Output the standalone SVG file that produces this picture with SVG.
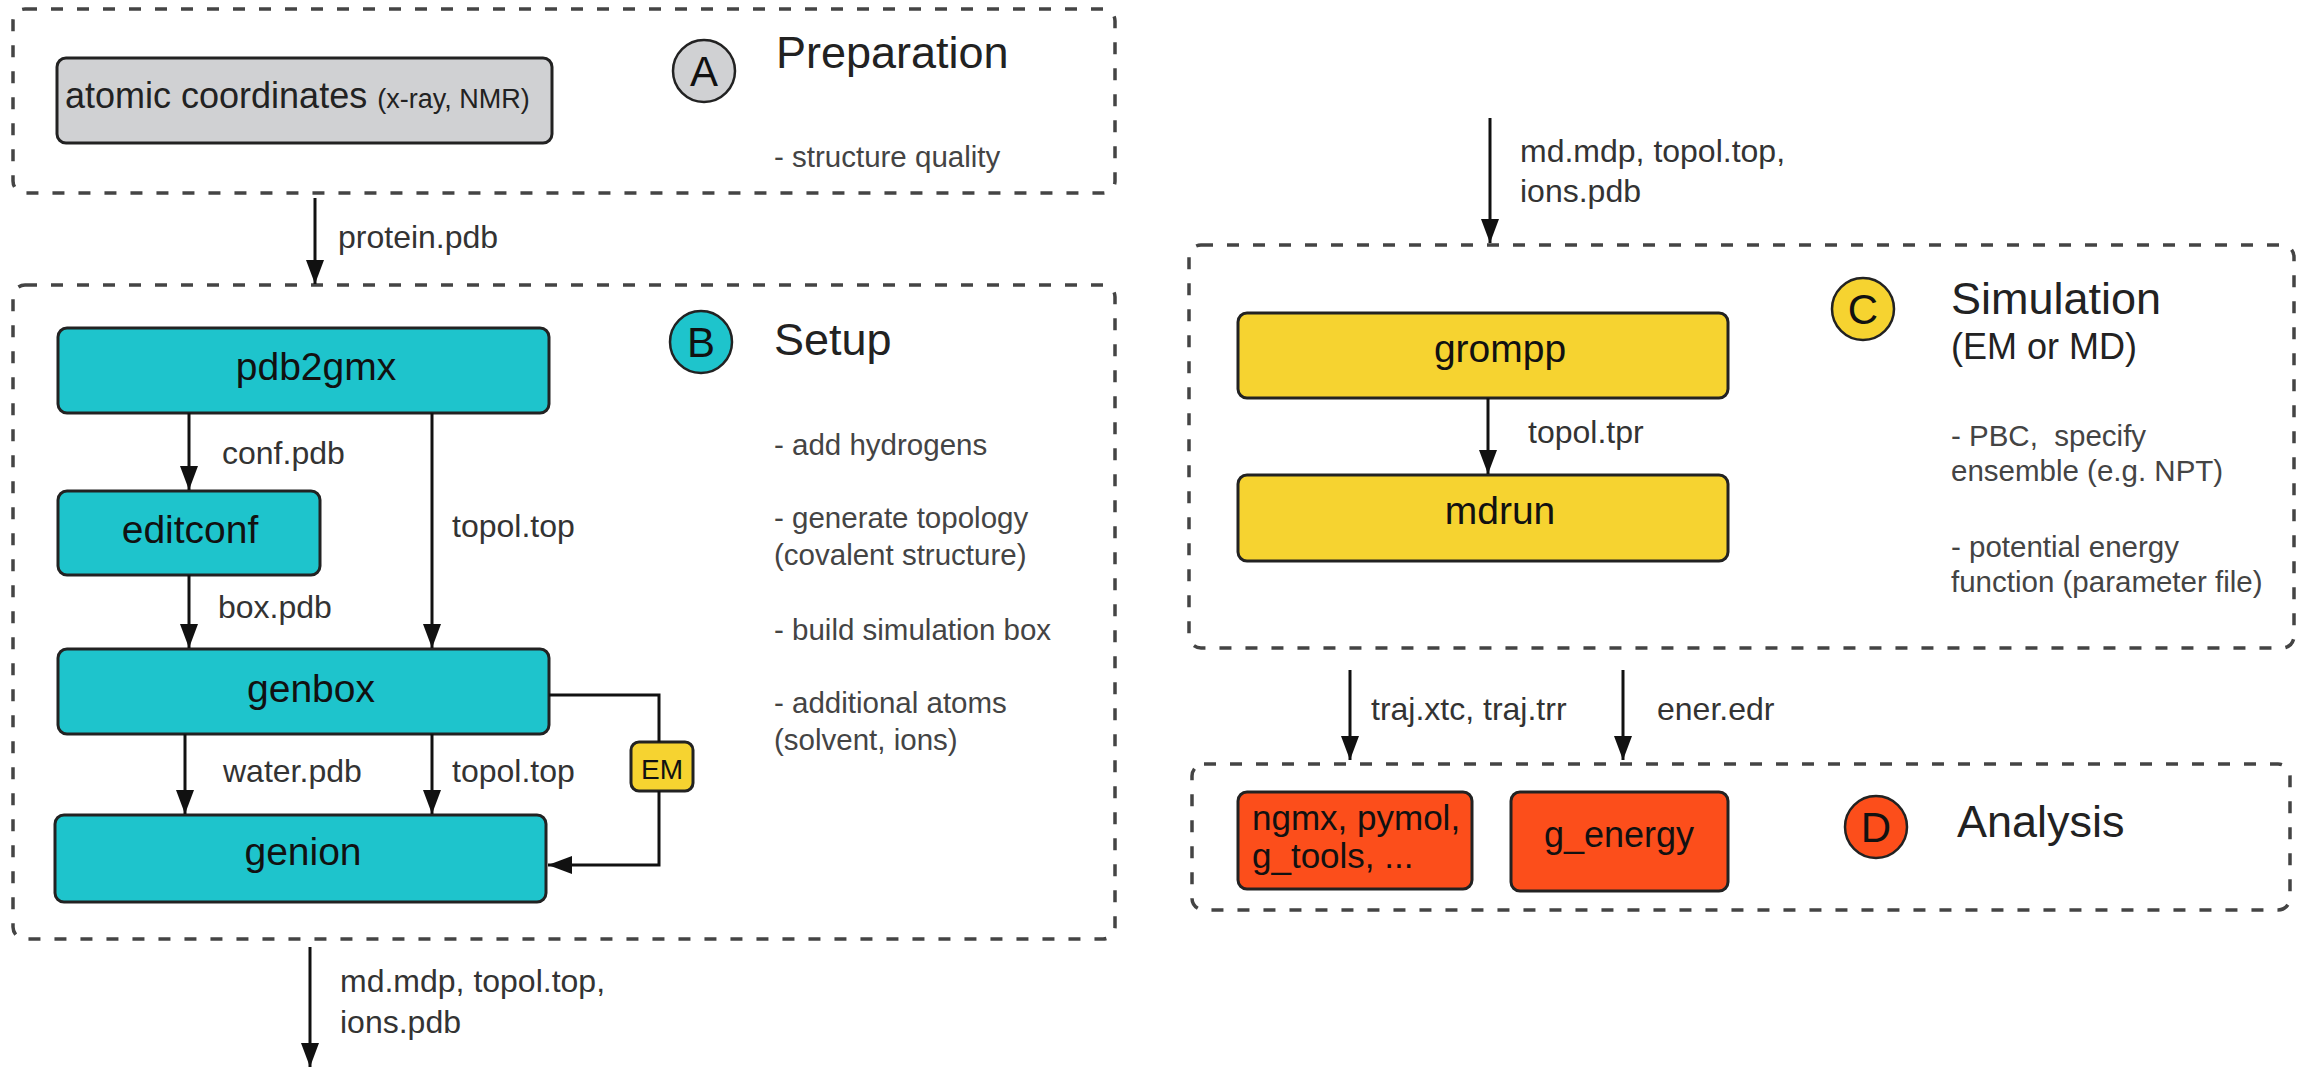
<svg xmlns="http://www.w3.org/2000/svg" width="2305" height="1069" viewBox="0 0 2305 1069">
<style>
text{font-family:"Liberation Sans",Arial,sans-serif}
.grp{fill:none;stroke:#444;stroke-width:3.5;stroke-dasharray:12 14}
.node{stroke:#222;stroke-width:3}
.gray{fill:#d0d1d3}
.teal{fill:#1ec4cc}
.yel{fill:#f6d330}
.org{fill:#fc4e1b}
.nt{font-size:39px;fill:#111;text-anchor:middle}
.lbl{font-size:32px;fill:#333}
.desc{font-size:29.5px;fill:#444}
.head{font-size:45px;fill:#222}
.sub{font-size:36px;fill:#222}
.badge{stroke:#222;stroke-width:2.5}
.bl{font-size:42px;fill:#111;text-anchor:middle}
.edge{fill:none;stroke:#111;stroke-width:3}
</style>
<defs>
<marker id="ah" markerUnits="userSpaceOnUse" markerWidth="26" markerHeight="20" refX="24" refY="9" orient="auto">
<path d="M0,0 L24,9 L0,18 z" fill="#111"/>
</marker>
</defs>
<rect width="2305" height="1069" fill="#fff"/>

<g id="groupA">
<rect class="grp" x="13" y="9" width="1102" height="184" rx="12"/>
<circle class="badge gray" cx="704" cy="71" r="31"/>
<text class="bl" x="704" y="86">A</text>
<text class="head" x="776" y="68">Preparation</text>
<text class="desc" x="774" y="167">- structure quality</text>
</g>
<g id="atomic">
<rect class="node gray" x="57" y="58" width="495" height="85" rx="9"/>
<text x="65" y="108" fill="#222" font-size="36">atomic coordinates <tspan font-size="27">(x-ray, NMR)</tspan></text>
</g>

<g id="groupB">
<rect class="grp" x="13" y="285" width="1102" height="654" rx="12"/>
<circle class="badge teal" cx="701" cy="342" r="31"/>
<text class="bl" x="701" y="357">B</text>
<text class="head" x="774" y="355">Setup</text>
<text class="desc" x="774" y="455">- add hydrogens</text>
<text class="desc" x="774" y="528">- generate topology</text>
<text class="desc" x="774" y="565">(covalent structure)</text>
<text class="desc" x="774" y="640">- build simulation box</text>
<text class="desc" x="774" y="713">- additional atoms</text>
<text class="desc" x="774" y="750">(solvent, ions)</text>
</g>
<g id="pdb2gmx">
<rect class="node teal" x="58" y="328" width="491" height="85" rx="9"/>
<text class="nt" x="316" y="380">pdb2gmx</text>
</g>
<g id="editconf">
<rect class="node teal" x="58" y="491" width="262" height="84" rx="9"/>
<text class="nt" x="190" y="543">editconf</text>
</g>
<g id="genbox">
<rect class="node teal" x="58" y="649" width="491" height="85" rx="9"/>
<text class="nt" x="311" y="702">genbox</text>
</g>
<g id="genion">
<rect class="node teal" x="55" y="815" width="491" height="87" rx="9"/>
<text class="nt" x="303" y="865">genion</text>
</g>
<g id="em">
<rect class="node yel" x="631" y="742" width="62" height="49" rx="8"/>
<text x="662" y="779" font-size="28" fill="#111" text-anchor="middle">EM</text>
</g>

<g id="groupC">
<rect class="grp" x="1189" y="245" width="1105" height="403" rx="12"/>
<circle class="badge yel" cx="1863" cy="309" r="31"/>
<text class="bl" x="1863" y="324">C</text>
<text class="head" x="1951" y="314">Simulation</text>
<text class="sub" x="1951" y="359">(EM or MD)</text>
<text class="desc" x="1951" y="446" xml:space="preserve">- PBC,  specify</text>
<text class="desc" x="1951" y="481">ensemble (e.g. NPT)</text>
<text class="desc" x="1951" y="557">- potential energy</text>
<text class="desc" x="1951" y="592">function (parameter file)</text>
</g>
<g id="grompp">
<rect class="node yel" x="1238" y="313" width="490" height="85" rx="9"/>
<text class="nt" x="1500" y="362">grompp</text>
</g>
<g id="mdrun">
<rect class="node yel" x="1238" y="475" width="490" height="86" rx="9"/>
<text class="nt" x="1500" y="524">mdrun</text>
</g>

<g id="groupD">
<rect class="grp" x="1192" y="764" width="1098" height="146" rx="12"/>
<circle class="badge org" cx="1876" cy="827" r="31"/>
<text class="bl" x="1876" y="842">D</text>
<text class="head" x="1957" y="837">Analysis</text>
</g>
<g id="ngmx">
<rect class="node org" x="1238" y="792" width="234" height="97" rx="9"/>
<text x="1252" y="830" font-size="35" fill="#111">ngmx, pymol,</text>
<text x="1252" y="868" font-size="35" fill="#111">g_tools, ...</text>
</g>
<g id="genergy">
<rect class="node org" x="1511" y="792" width="217" height="99" rx="9"/>
<text x="1619" y="847" font-size="36" fill="#111" text-anchor="middle">g_energy</text>
</g>

<g id="connectors">
<line class="edge" x1="315" y1="198" x2="315" y2="284" marker-end="url(#ah)"/>
<text class="lbl" x="338" y="248">protein.pdb</text>
<line class="edge" x1="189" y1="413" x2="189" y2="490" marker-end="url(#ah)"/>
<text class="lbl" x="222" y="464">conf.pdb</text>
<line class="edge" x1="189" y1="575" x2="189" y2="648" marker-end="url(#ah)"/>
<text class="lbl" x="218" y="618">box.pdb</text>
<line class="edge" x1="432" y1="413" x2="432" y2="648" marker-end="url(#ah)"/>
<text class="lbl" x="452" y="537">topol.top</text>
<line class="edge" x1="185" y1="734" x2="185" y2="814" marker-end="url(#ah)"/>
<text class="lbl" x="223" y="782">water.pdb</text>
<line class="edge" x1="432" y1="734" x2="432" y2="814" marker-end="url(#ah)"/>
<text class="lbl" x="452" y="782">topol.top</text>
<path class="edge" d="M549,695 H659 V742" stroke-width="3.5"/>
<path class="edge" d="M659,791 V865 H548" stroke-width="3.5" marker-end="url(#ah)"/>
<line class="edge" x1="310" y1="947" x2="310" y2="1067" marker-end="url(#ah)"/>
<text class="lbl" x="340" y="992">md.mdp, topol.top,</text>
<text class="lbl" x="340" y="1033">ions.pdb</text>
<line class="edge" x1="1490" y1="118" x2="1490" y2="243" marker-end="url(#ah)"/>
<text class="lbl" x="1520" y="162">md.mdp, topol.top,</text>
<text class="lbl" x="1520" y="202">ions.pdb</text>
<line class="edge" x1="1488" y1="398" x2="1488" y2="474" marker-end="url(#ah)"/>
<text class="lbl" x="1528" y="443">topol.tpr</text>
<line class="edge" x1="1350" y1="670" x2="1350" y2="760" marker-end="url(#ah)"/>
<text class="lbl" x="1371" y="720">traj.xtc, traj.trr</text>
<line class="edge" x1="1623" y1="670" x2="1623" y2="760" marker-end="url(#ah)"/>
<text class="lbl" x="1657" y="720">ener.edr</text>
</g>
</svg>
